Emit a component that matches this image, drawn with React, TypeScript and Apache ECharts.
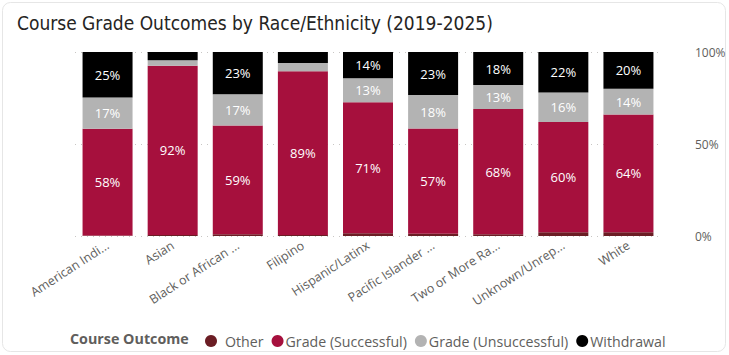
import React, { useEffect, useRef } from "react";
import * as echarts from "echarts";

const categories = [
  "American Indi...",
  "Asian",
  "Black or African ...",
  "Filipino",
  "Hispanic/Latinx",
  "Pacific Islander ...",
  "Two or More Ra...",
  "Unknown/Unrep...",
  "White",
];
const other = [0.3, 0.5, 1.0, 0.5, 1.5, 1.2, 1.0, 2.0, 2.0];
const successful = [58, 92, 59, 89, 71.2, 57.2, 68, 60, 64];
const unsuccessful = [17, 3, 17, 4.5, 13.1, 18.2, 13, 16, 14];
const withdrawal = [24.7, 4.5, 23, 6, 14.2, 23.4, 18, 22, 20];
const yTicks = [0, 50, 100];

export default function App() {
  const ref = useRef<HTMLDivElement>(null);
  useEffect(() => {
    if (!ref.current) return;
    const chart = echarts.init(ref.current, null, { renderer: "svg" });
    const font = "'Open Sans', 'Segoe UI', sans-serif";
    const lbl = {
      show: true,
      color: "#ffffff",
      fontSize: 13,
      fontFamily: font,
      formatter: (p: any) => (p.value >= 10 ? Math.round(p.value) + "%" : ""),
    };
    const mk = (name: string, data: number[], color: string, withLabel: boolean) => ({
      name,
      type: "bar",
      stack: "total",
      data,
      barWidth: 50,
      itemStyle: { color },
      label: withLabel ? lbl : { show: false },
      emphasis: { disabled: true },
    });
    chart.setOption({
      animation: false,
      backgroundColor: "#ffffff",
      title: {
        text: "Course Grade Outcomes by Race/Ethnicity (2019-2025)",
        left: 12,
        top: 8,
        textStyle: {
          fontFamily: "'DejaVu Sans Condensed', 'Liberation Sans Narrow', sans-serif",
          fontWeight: "normal",
          fontSize: 19,
          color: "#252423",
        },
      },
      graphic: [
        {
          type: "rect",
          shape: { x: 2.5, y: 2.5, width: 723, height: 349, r: 8 },
          style: { fill: "none", stroke: "#e6e6e6", lineWidth: 1 },
          z: -1,
        },
        {
          type: "text",
          left: 70,
          top: 331,
          style: {
            text: "Course Outcome",
            fontFamily: font,
            fontWeight: "bold",
            fontSize: 14.3,
            fill: "#605e5c",
          },
        },
      ],
      legend: {
        left: 200,
        top: 329,
        itemGap: 8,
        itemWidth: 12,
        itemHeight: 12,
        icon: "circle",
        textStyle: { fontFamily: font, fontSize: 14.2, color: "#605e5c", padding: [0, 0, 0, -3] },
        data: [
          { name: "Other", textStyle: { padding: [0, 0, 0, 3] } },
          "Grade (Successful)",
          "Grade (Unsuccessful)",
          "Withdrawal",
        ],
      },
      grid: { left: 75, right: 68, top: 52, bottom: 119, containLabel: false },
      xAxis: {
        type: "category",
        data: categories,
        axisLine: { show: false },
        axisTick: { show: false },
        axisLabel: {
          rotate: 33,
          interval: 0,
          margin: 8,
          color: "#605e5c",
          fontSize: 12.5,
          fontFamily: font,
        },
      },
      yAxis: {
        type: "value",
        position: "right",
        min: yTicks[0],
        max: yTicks[yTicks.length - 1],
        interval: 50,
        axisLabel: {
          formatter: "{value}%",
          color: "#605e5c",
          fontSize: 12,
          fontFamily: font,
          margin: 34,
        },
        splitLine: { lineStyle: { type: [1, 5], color: "#c8c6c4", width: 1 } },
        axisLine: { show: false },
        axisTick: { show: false },
      },
      series: [
        mk("Other", other, "#6b1d24", false),
        mk("Grade (Successful)", successful, "#a6103d", true),
        mk("Grade (Unsuccessful)", unsuccessful, "#b3b3b3", true),
        mk("Withdrawal", withdrawal, "#000000", true),
      ],
    });
    return () => chart.dispose();
  }, []);
  return (
    <div
      ref={ref}
      style={{ position: "fixed", left: 0, top: 0, width: 729, height: 355 }}
    />
  );
}
